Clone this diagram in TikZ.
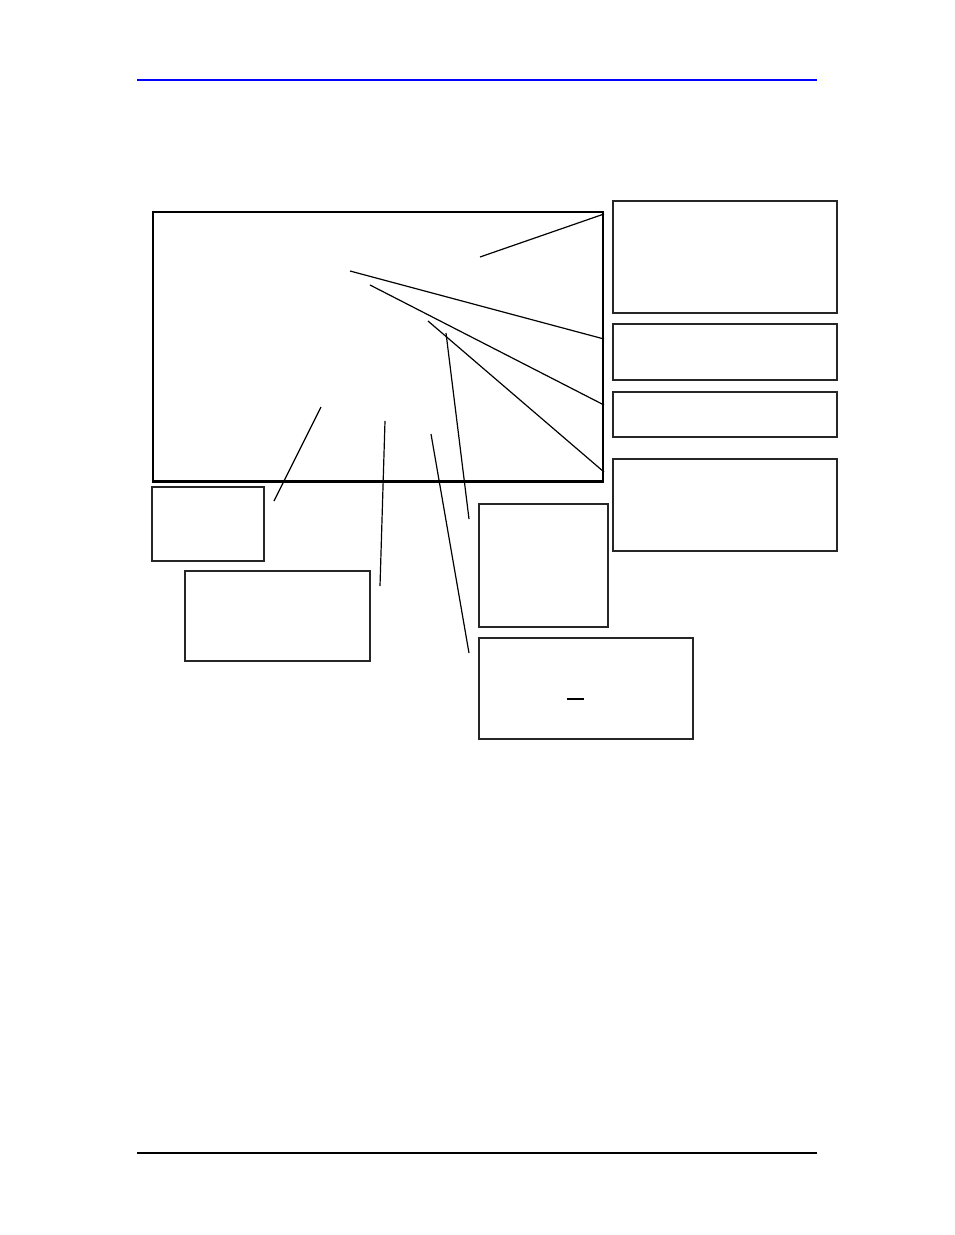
\documentclass[tikz,border=0pt]{standalone}
\begin{document}
\begin{tikzpicture}[x=0.75pt,y=-0.75pt,
  box/.style={draw=black!85,line width=0.9pt,fill=none},
  conn/.style={draw=black,line width=0.9pt}]
\useasboundingbox (0,0) rectangle (954,1235);
% header and footer rules
\coordinate (hl) at (137,80); \coordinate (hr) at (817,80);
\draw[blue,line width=1pt] (hl) -- (hr);
\coordinate (fl) at (137,1153); \coordinate (fr) at (817,1153);
\draw[black,line width=0.8pt] (fl) -- (fr);
% main frame
\draw[line width=0.8pt] (153,481) -- (153,212) -- (603,212) -- (603,481);
\draw[line width=1.6pt] (152,481.5) -- (604,481.5);
% callout boxes
\draw[box] (613,201) rectangle (837,313);
\draw[box] (613,324) rectangle (837,380);
\draw[box] (613,392) rectangle (837,437);
\draw[box] (613,459) rectangle (837,551);
\draw[box] (479,504) rectangle (608,627);
\draw[box] (479,638) rectangle (693,739);
\draw[box] (152,487) rectangle (264,561);
\draw[box] (185,571) rectangle (370,661);
% small bar in box
\coordinate (b1) at (567,699); \coordinate (b2) at (584,699);
\draw[line width=0.8pt] (b1) -- (b2);
% connectors
\coordinate (a1) at (480,257); \coordinate (a2) at (604,214);
\coordinate (c1) at (350,271); \coordinate (c2) at (604,339);
\coordinate (d1) at (370,285); \coordinate (d2) at (604,405);
\coordinate (e1) at (428,321); \coordinate (e2) at (604,472);
\coordinate (g1) at (446,333); \coordinate (g2) at (469,519);
\coordinate (k1) at (431,434); \coordinate (k2) at (469,653);
\coordinate (m1) at (385,421); \coordinate (m2) at (380,586);
\coordinate (n1) at (321,407); \coordinate (n2) at (274,501);
\draw[conn] (a1) -- (a2);
\draw[conn] (c1) -- (c2);
\draw[conn] (d1) -- (d2);
\draw[conn] (e1) -- (e2);
\draw[conn] (g1) -- (g2);
\draw[conn] (k1) -- (k2);
\draw[conn] (m1) -- (m2);
\draw[conn] (n1) -- (n2);
\end{tikzpicture}
\end{document}
